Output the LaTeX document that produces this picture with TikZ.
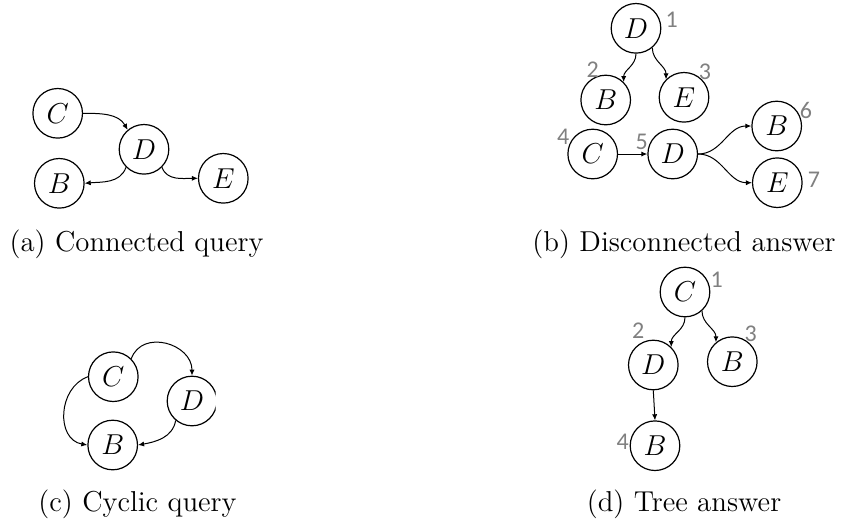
\documentclass[tikz,border=0pt]{standalone}
\usepackage{fontspec}
\usepackage{tikz}
\usetikzlibrary{arrows.meta,positioning}
\newfontfamily\numfont{Carlito}
\definecolor{qgNum}{HTML}{808080}
\tikzset{
  vert/.style={circle,draw,line width=0.6pt,minimum size=24.8pt,inner sep=0pt,
               font=\fontsize{14}{16}\selectfont},
  num/.style={font=\numfont\fontsize{12}{14}\selectfont,text=qgNum,inner sep=0pt},
  subcap/.style={font=\fontsize{14.4}{17}\selectfont,inner sep=0pt},
  arr/.style={-{Latex[length=3pt,width=2.6pt]},line width=0.5pt},
}

\begin{document}
\begin{tikzpicture}[x=0.5pt,y=0.5pt]
  \useasboundingbox (0,0) rectangle (841,-526);

  % (a) connected query
  \node[vert] (aC) at (57.7,-113.3) {$C$};
  \node[vert] (aD) at (144,-149.3) {$D$};
  \node[vert] (aB) at (59.3,-183.3) {$B$};
  \node[vert] (aE) at (223.3,-178.3) {$E$};
  \draw[arr] (aC.east) to[out=0,in=120] (aD.130);
  \draw[arr] (aD.225) to[out=-110,in=5] (aB.east);
  \draw[arr] (aD.-45) to[out=-70,in=180] (aE.west);
  \node[subcap] (capa) at (136.5,-244) {(a) Connected query};

  % (b) disconnected answer
  \node[vert] (bD1) at (636,-28.3) {$D$};
  \node[vert] (bB2) at (605.7,-100) {$B$};
  \node[vert] (bE3) at (684,-97.3) {$E$};
  \node[vert] (bC4) at (592.7,-154) {$C$};
  \node[vert] (bD5) at (672.7,-154) {$D$};
  \node[vert] (bB6) at (776.7,-126) {$B$};
  \node[vert] (bE7) at (777.3,-182.7) {$E$};
  \node[num] (bn1) at (671.7,-20) {1};
  \node[num] (bn2) at (592.7,-70) {2};
  \node[num] (bn3) at (705,-71.7) {3};
  \node[num] (bn4) at (563.3,-136.7) {4};
  \node[num] (bn5) at (641.7,-141.7) {5};
  \node[num] (bn6) at (806,-110) {6};
  \node[num] (bn7) at (814,-180) {7};
  \draw[arr] (bD1.south) to[out=-90,in=90] (bB2.45);
  \draw[arr] (bD1.-50) to[out=-90,in=90] (bE3.135);
  \draw[arr] (bC4) -- (bD5);
  \draw[arr] (bD5.east) to[out=0,in=180] (bB6.west);
  \draw[arr] (bD5.east) to[out=0,in=180] (bE7.west);
  \node[subcap] (capb) at (684,-244) {(b) Disconnected answer};

  % (c) cyclic query
  \begin{scope}
    \clip (0,-290) rectangle (215.5,-480);
    \node[vert] (cC) at (113.3,-376.7) {$C$};
    \node[vert] (cD) at (192,-401) {$D$};
    \node[vert] (cB) at (112.7,-445) {$B$};
    \draw[arr] (cC.45) to[out=70,in=90,looseness=1.3] (cD.north);
    \draw[arr] (cC.west) to[out=200,in=170,looseness=1.2] (cB.west);
    \draw[arr] (cD.230) to[out=-100,in=10] (cB.east);
  \end{scope}
  \node[subcap] (capc) at (137.5,-504) {(c) Cyclic query};

  % (d) tree answer
  \node[vert] (dC1) at (685,-292) {$C$};
  \node[vert] (dD2) at (653.3,-365) {$D$};
  \node[vert] (dB3) at (732.3,-361.7) {$B$};
  \node[vert] (dB4) at (655,-445.7) {$B$};
  \node[num] (dn1) at (716.7,-280) {1};
  \node[num] (dn2) at (638.3,-331) {2};
  \node[num] (dn3) at (750.7,-333.3) {3};
  \node[num] (dn4) at (622.7,-441.7) {4};
  \draw[arr] (dC1.south) to[out=-90,in=90] (dD2.45);
  \draw[arr] (dC1.-48) to[out=-90,in=90] (dB3.130);
  \draw[arr] (dD2.south) -- (dB4.north);
  \node[subcap] (capd) at (684,-504) {(d) Tree answer};
\end{tikzpicture}
\end{document}
